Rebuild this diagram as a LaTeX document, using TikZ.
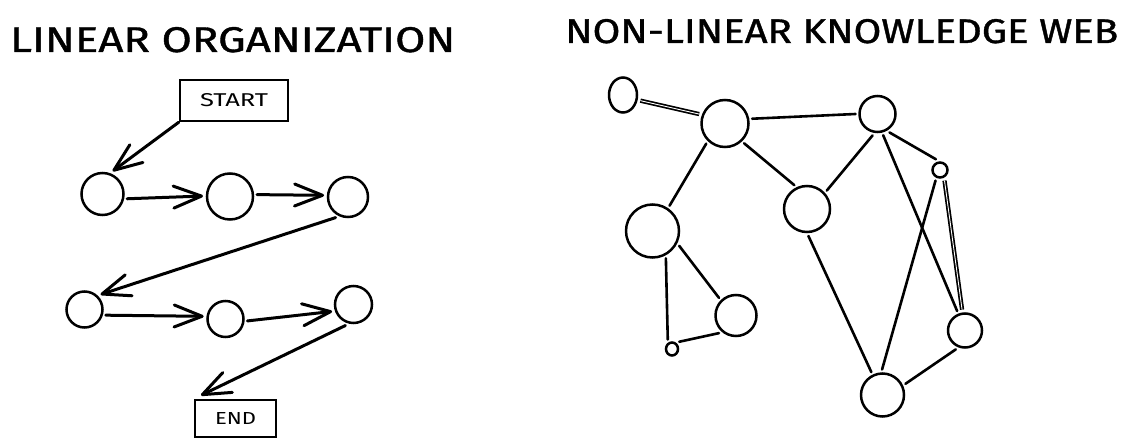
\documentclass[tikz,border=0pt]{standalone}
\usepackage{fontspec}
\setmainfont{Fira Sans}
\newfontfamily\heavyfont{Fira Sans}[FakeBold=1.0]
\usetikzlibrary{arrows.meta,shapes.geometric}
\begin{document}
\begin{tikzpicture}[x=1pt,y=-1pt,
  dot/.style={circle,draw,line width=2.5pt,inner sep=0pt,minimum size=#1,outer sep=4pt},
  oval/.style 2 args={ellipse,draw,line width=2.5pt,inner sep=0pt,minimum width=#1,minimum height=#2,outer sep=4pt},
  stepbox/.style={rectangle,draw,line width=2.4pt,inner sep=0pt},
  titletext/.style={inner sep=0pt,anchor=base west,font=\heavyfont},
  flow/.style={line width=3pt,line cap=round,-{Straight Barb[length=28pt,width=22pt,round]}},
  link/.style={line width=2.6pt,line cap=round},
  dlink/.style={double,double distance=0.9pt,line width=1.7pt}
]
\useasboundingbox (0,0) rectangle (1134,446);
\fill[white] (0,0) rectangle (1134,446);

% titles
\node[titletext] (t1) at (10,52) {\resizebox{445pt}{25pt}{LINEAR ORGANIZATION}};
\node[titletext] (t2) at (565,43) {\resizebox{553pt}{24pt}{NON-LINEAR KNOWLEDGE WEB}};

% linear organization
\node[stepbox,minimum width=108pt,minimum height=41pt] (start) at (234,100.5) {\resizebox{68pt}{13pt}{START}};
\node[stepbox,minimum width=81pt,minimum height=37pt] (end) at (235.5,418.5) {\resizebox{41pt}{12pt}{END}};

\node[dot=42pt] (a) at (102.5,194) {};
\node[dot=46pt] (b) at (230,196.5) {};
\node[dot=40pt] (c) at (348,197) {};
\node[dot=36pt] (d) at (84.5,309.5) {};
\node[dot=36pt] (e) at (225.5,319) {};
\node[dot=37pt] (f) at (353.5,304.5) {};

\draw[flow] (start.south west) -- (a.66);
\draw[flow] (a.349) -- (b.179);
\draw[flow] (b.4.6) -- (c.176);
\draw[flow] (c.239) -- (d.43);
\draw[flow] (d.345) -- (e.173.5);
\draw[flow] (e.355) -- (f.198);
\draw[flow,shorten >=8pt] (f.249) -- (end.north west);

% knowledge web
\node[oval={28pt}{35pt}] (n1) at (623,95) {};
\node[dot=47pt] (n2) at (725,123.5) {};
\node[dot=36pt] (n3) at (877.5,114) {};
\node[dot=15pt] (n4) at (940,170) {};
\node[dot=46pt] (n5) at (807,209) {};
\node[dot=53pt] (n6) at (652.5,231) {};
\node[dot=41pt] (n7) at (736,315.5) {};
\node[oval={12pt}{13pt}] (n8) at (672,349) {};
\node[dot=34pt] (n9) at (965,330.5) {};
\node[dot=43pt] (n10) at (882.5,395) {};

\draw[dlink] (n1.342) -- (n2.160.5);
\draw[link] (n2.10.7) -- (n3.180);
\draw[link] (n2.227) -- (n6.56);
\draw[link] (n2.314) -- (n5.118);
\draw[link] (n3.257) -- (n5.43.6);
\draw[link] (n3.303) -- (n4.111.8);
\draw[link] (n3.285) -- (n9.112.3);
\draw[link] (n4.247) -- (n10.91);
\draw[dlink] (n4.293) -- (n9.98);
\draw[link] (n5.273) -- (n10.116.6);
\draw[link] (n6.296) -- (n8.114.4);
\draw[link] (n6.331) -- (n7.134);
\draw[link] (n8.45) -- (n7.226);
\draw[link] (n9.244) -- (n10.26);
\end{tikzpicture}
\end{document}
